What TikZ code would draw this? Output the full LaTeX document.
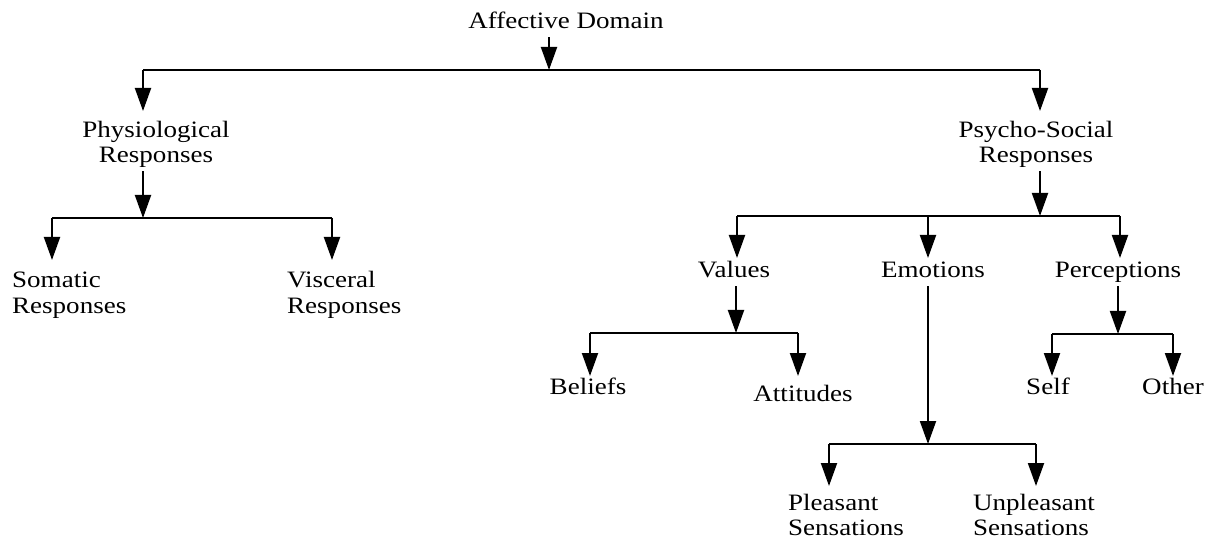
\documentclass[tikz,border=0pt]{standalone}
\usepackage{fontspec}
\setmainfont[FakeStretch=1.15]{Liberation Serif}
\usetikzlibrary{arrows.meta}
\begin{document}
\begin{tikzpicture}[x=1pt,y=-1pt,
  lbl/.style={inner sep=3pt, font=\fontsize{23.5}{25}\selectfont},
  one/.style={lbl, text depth=5pt, anchor=base},
  two/.style={lbl, align=#1},
  conn/.style={line width=2pt},
  arr/.style={conn, -{Triangle[length=23pt,width=16pt]}}]
\useasboundingbox (0,0) rectangle (1211,540);

% ---- labels (two-line labels are placed by the baseline of their last line) ----
\node[one] (aff) at (566,29) {Affective Domain};
\node[two=center, anchor=base] (phys) at (156,163) {Physiological\\Responses};
\node[two=center, anchor=base] (psy) at (1036,163) {Psycho-Social\\Responses};
\node[two=left, anchor=base west] (som) at (9,313) {Somatic\\Responses};
\node[two=left, anchor=base west] (vis) at (284,313) {Visceral\\Responses};
\node[one] (val) at (734,278) {Values};
\node[one] (emo) at (933,278) {Emotions};
\node[one] (per) at (1118,278) {Perceptions};
\node[one] (bel) at (588,394) {Beliefs};
\node[one] (att) at (803,401) {Attitudes};
\node[one] (self) at (1048,394) {Self};
\node[one] (oth) at (1173,394) {Other};
\node[two=left, anchor=base west] (ple) at (785,535) {Pleasant\\Sensations};
\node[two=left, anchor=base west] (unp) at (970,535) {Unpleasant\\Sensations};

% ---- branch points and arrow ends ----
\coordinate (b0) at (549,70);  \coordinate (b0l) at (143,70);  \coordinate (b0r) at (1040,70);
\coordinate (t-phys) at (143,111); \coordinate (t-psy) at (1040,111);

\coordinate (b1) at (143,218); \coordinate (b1l) at (52,218);  \coordinate (b1r) at (332,218);
\coordinate (t-som) at (52,260); \coordinate (t-vis) at (332,260);

\coordinate (b2) at (1040,216); \coordinate (b2l) at (737,216); \coordinate (b2m) at (928,216); \coordinate (b2r) at (1120,216);
\coordinate (t-val) at (737,258); \coordinate (t-emo) at (928,258); \coordinate (t-per) at (1120,258);

\coordinate (b3) at (736,333); \coordinate (b3l) at (590,333); \coordinate (b3r) at (798,333);
\coordinate (t-bel) at (590,376); \coordinate (t-att) at (798,376);

\coordinate (b4) at (928,444); \coordinate (b4l) at (829,444); \coordinate (b4r) at (1036,444);
\coordinate (t-ple) at (829,486); \coordinate (t-unp) at (1036,486);

\coordinate (b5) at (1118,334); \coordinate (b5l) at (1052,334); \coordinate (b5r) at (1173,334);
\coordinate (t-self) at (1052,376); \coordinate (t-oth) at (1173,376);

% ---- Affective Domain ----
\draw[arr] (aff.south -| b0) -- (b0);
\draw[conn] (b0l) -- (b0r);
\draw[arr] (b0l) -- (t-phys);
\draw[arr] (b0r) -- (t-psy);

% ---- Physiological ----
\draw[arr] (phys.south -| b1) -- (b1);
\draw[conn] (b1l) -- (b1r);
\draw[arr] (b1l) -- (t-som);
\draw[arr] (b1r) -- (t-vis);

% ---- Psycho-Social ----
\draw[arr] (psy.south -| b2) -- (b2);
\draw[conn] (b2l) -- (b2r);
\draw[arr] (b2l) -- (t-val);
\draw[arr] (b2m) -- (t-emo);
\draw[arr] (b2r) -- (t-per);

% ---- Values ----
\draw[arr] (val.south -| b3) -- (b3);
\draw[conn] (b3l) -- (b3r);
\draw[arr] (b3l) -- (t-bel);
\draw[arr] (b3r) -- (t-att);

% ---- Emotions ----
\draw[arr] (emo.south -| b4) -- (b4);
\draw[conn] (b4l) -- (b4r);
\draw[arr] (b4l) -- (t-ple);
\draw[arr] (b4r) -- (t-unp);

% ---- Perceptions ----
\draw[arr] (per.south -| b5) -- (b5);
\draw[conn] (b5l) -- (b5r);
\draw[arr] (b5l) -- (t-self);
\draw[arr] (b5r) -- (t-oth);
\end{tikzpicture}
\end{document}
